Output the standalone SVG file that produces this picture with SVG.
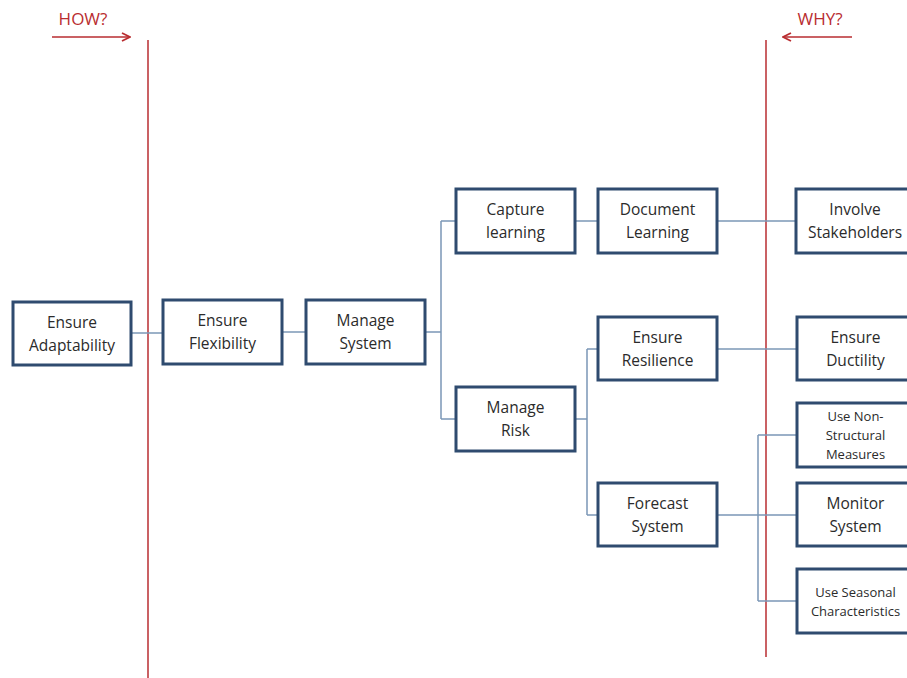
<svg xmlns="http://www.w3.org/2000/svg" width="907" height="678" viewBox="0 0 907 678">
<defs>
<style>
.box{fill:#fff;stroke:#2f4b6f;stroke-width:3}
.t{font-family:"Open Sans","Liberation Sans",sans-serif;font-size:15.5px;fill:#2b2b2b;text-anchor:middle}
.s{font-size:13px}
.c{fill:none;stroke:#7b97b6;stroke-width:1.5}
.red{stroke:#b92d30;stroke-width:1.5;fill:none}
.rt{font-family:"Open Sans","Liberation Sans",sans-serif;font-size:17px;fill:#b92d30;text-anchor:middle}
</style>
<marker id="ah" viewBox="0 0 10 10" refX="9" refY="5" markerWidth="10" markerHeight="10" markerUnits="userSpaceOnUse" orient="auto">
<path d="M1,1 L9,5 L1,9" fill="none" stroke="#b92d30" stroke-width="1.8"/>
</marker>
</defs>
<rect width="907" height="678" fill="#fff"/>
<g id="guides">
<line class="red" x1="148" y1="40" x2="148" y2="678"/>
<line class="red" x1="766" y1="40" x2="766" y2="657"/>
<line class="red" x1="52" y1="37" x2="130" y2="37" marker-end="url(#ah)" stroke-width="2"/>
<line class="red" x1="852" y1="37" x2="783" y2="37" marker-end="url(#ah)" stroke-width="2"/>
<text class="rt" x="83" y="25">HOW?</text>
<text class="rt" x="820" y="25">WHY?</text>
</g>
<g id="connectors">
<path class="c" d="M131,333 H163"/>
<path class="c" d="M282,332 H306"/>
<path class="c" d="M425,332 H441 M441,221 V419 M441,221 H456 M441,419 H456"/>
<path class="c" d="M575,221 H598"/>
<path class="c" d="M717,221 H796"/>
<path class="c" d="M575,419 H587 M587,349 V515 M587,349 H598 M587,515 H598"/>
<path class="c" d="M717,349 H797"/>
<path class="c" d="M717,515 H797 M758,435 V601 M758,435 H797 M758,601 H797"/>
</g>
<g id="n-adaptability"><rect class="box" x="13" y="302" width="118" height="63"/><text class="t" x="72" y="328">Ensure</text><text class="t" x="72" y="351">Adaptability</text></g>
<g id="n-flexibility"><rect class="box" x="163" y="300" width="119" height="64"/><text class="t" x="222.5" y="326">Ensure</text><text class="t" x="222.5" y="349">Flexibility</text></g>
<g id="n-managesystem"><rect class="box" x="306" y="300" width="119" height="64"/><text class="t" x="365.5" y="326">Manage</text><text class="t" x="365.5" y="349">System</text></g>
<g id="n-capture"><rect class="box" x="456" y="189" width="119" height="64"/><text class="t" x="515.5" y="215">Capture</text><text class="t" x="515.5" y="238">learning</text></g>
<g id="n-document"><rect class="box" x="598" y="189" width="119" height="64"/><text class="t" x="657.5" y="215">Document</text><text class="t" x="657.5" y="238">Learning</text></g>
<g id="n-involve"><rect class="box" x="796" y="189" width="118" height="64"/><text class="t" x="855" y="215">Involve</text><text class="t" x="855" y="238">Stakeholders</text></g>
<g id="n-managerisk"><rect class="box" x="456" y="387" width="119" height="64"/><text class="t" x="515.5" y="413">Manage</text><text class="t" x="515.5" y="436">Risk</text></g>
<g id="n-resilience"><rect class="box" x="598" y="317" width="119" height="63"/><text class="t" x="657.5" y="343">Ensure</text><text class="t" x="657.5" y="366">Resilience</text></g>
<g id="n-ductility"><rect class="box" x="797" y="317" width="117" height="63"/><text class="t" x="855.5" y="343">Ensure</text><text class="t" x="855.5" y="366">Ductility</text></g>
<g id="n-nonstructural"><rect class="box" x="797" y="403" width="117" height="64"/><text class="t s" x="855.5" y="421">Use Non-</text><text class="t s" x="855.5" y="440">Structural</text><text class="t s" x="855.5" y="459">Measures</text></g>
<g id="n-forecast"><rect class="box" x="598" y="483" width="119" height="63"/><text class="t" x="657.5" y="509">Forecast</text><text class="t" x="657.5" y="532">System</text></g>
<g id="n-monitor"><rect class="box" x="797" y="483" width="117" height="63"/><text class="t" x="855.5" y="509">Monitor</text><text class="t" x="855.5" y="532">System</text></g>
<g id="n-seasonal"><rect class="box" x="797" y="569" width="117" height="64"/><text class="t s" x="855.5" y="597">Use Seasonal</text><text class="t s" x="855.5" y="616">Characteristics</text></g>
</svg>
